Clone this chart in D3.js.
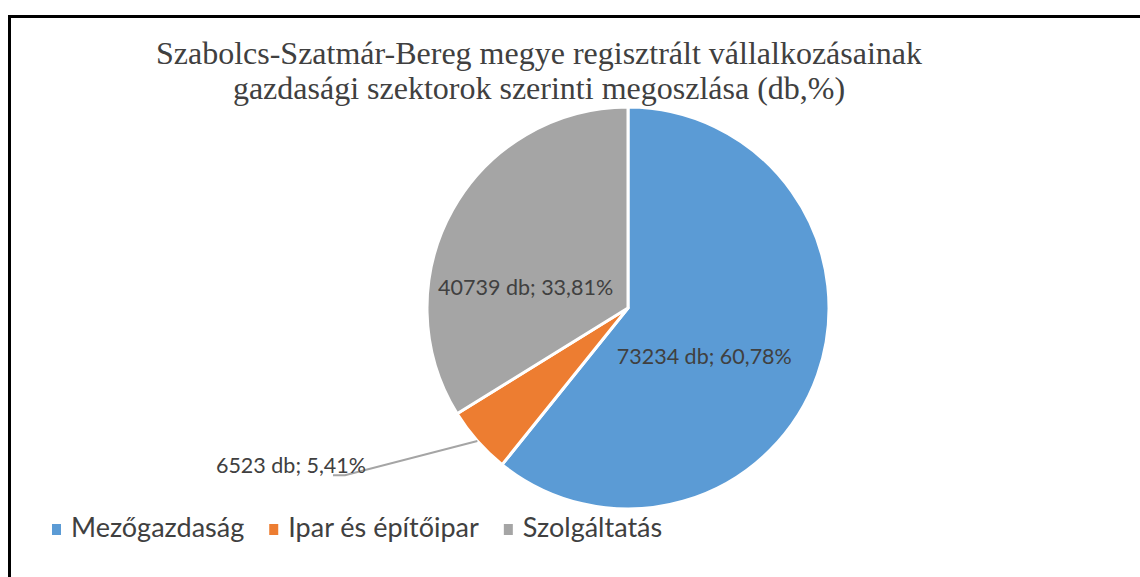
<!DOCTYPE html>
<html>
<head>
<meta charset="utf-8">
<script src="https://cdn.jsdelivr.net/npm/d3@7"></script>
<style>
  body { margin: 0; background: #fff; }
  svg { display: block; }
</style>
</head>
<body>
<div id="chart-area"></div>
<script>
// data
var sectors = ["Mezőgazdaság", "Ipar és építőipar", "Szolgáltatás"];
var counts = [73234, 6523, 40739];
var shares = ["60,78%", "5,41%", "33,81%"];
var colors = ["#5B9BD5", "#ED7D31", "#A5A5A5"];
var titleLines = ["Szabolcs-Szatmár-Bereg megye regisztrált  vállalkozásainak",
                  "gazdasági szektorok szerinti megoszlása (db,%)"];

var W = 1140, H = 577;
var cx = 628, cy = 308, radius = 201;

var svg = d3.select("#chart-area")
  .append("svg")
    .attr("width", W)
    .attr("height", H);

svg.append("rect").attr("width", W).attr("height", H).attr("fill", "#fff");

// frame of the chart area (cut by the window on the right and bottom)
svg.append("path")
  .attr("d", "M9.5," + (H + 5) + " V16.5 H" + (W + 5))
  .attr("fill", "none")
  .attr("stroke", "#000")
  .attr("stroke-width", 3);

// title
svg.append("text")
  .attr("x", 539)
  .attr("y", 64)
  .attr("font-family", "'Liberation Serif', 'Times New Roman', serif")
  .attr("font-size", "32px")
  .attr("fill", "#404040")
  .attr("text-anchor", "middle")
  .selectAll("tspan")
  .data(titleLines)
  .enter()
  .append("tspan")
    .attr("x", 539)
    .attr("dy", function(d, i) { return i === 0 ? 0 : 35; })
    .text(function(d) { return d; });

var pie = d3.pie().sort(null).value(function(d) { return d; });
var arcs = pie(counts);

var arc = d3.arc().innerRadius(0).outerRadius(radius);

var g = svg.append("g")
  .attr("transform", "translate(" + cx + "," + cy + ")");

g.selectAll("path.slice")
  .data(arcs)
  .enter()
  .append("path")
    .attr("class", "slice")
    .attr("d", arc)
    .attr("fill", function(d, i) { return colors[i]; })
    .attr("stroke", "#fff")
    .attr("stroke-width", 3)
    .attr("stroke-linejoin", "round");

// label placement (angle in degrees from 12 o'clock, distance as share of radius)
var labelPlace = [
  {ang: 122.5, r: 0.45},
  {ang: 245, r: 1.85},
  {ang: 281.6, r: 0.52}
];

function polar(ang, r) {
  var a = ang * Math.PI / 180;
  return [r * Math.sin(a), -r * Math.cos(a)];
}

// leader line for the small slice
var o = arcs[1];
var mid = (o.startAngle + o.endAngle) / 2;
var p0 = polar(mid * 180 / Math.PI, radius * 1.0);
var lp = polar(labelPlace[1].ang, radius * labelPlace[1].r);
var p1 = [lp[0] + 54, lp[1] + 10];
var p2 = [p1[0] - 12, p1[1]];
g.append("polyline")
  .attr("points", [p0, p1, p2].map(function(p) { return p.join(","); }).join(" "))
  .attr("fill", "none")
  .attr("stroke", "#A5A5A5")
  .attr("stroke-width", 2);

g.selectAll("text.label")
  .data(arcs)
  .enter()
  .append("text")
    .attr("class", "label")
    .attr("transform", function(d, i) {
      return "translate(" + polar(labelPlace[i].ang, radius * labelPlace[i].r) + ")";
    })
    .attr("dy", "0.35em")
    .attr("text-anchor", "middle")
    .attr("font-family", "Lato, 'Open Sans', sans-serif")
    .attr("font-size", "21.5px")
    .attr("fill", "#404040")
    .text(function(d, i) { return counts[i] + " db; " + shares[i]; });

// legend
var legend = svg.append("g").attr("transform", "translate(52,537)");
var lx = 0;
sectors.forEach(function(name, i) {
  var item = legend.append("g").attr("transform", "translate(" + lx + ",0)");
  item.append("rect")
    .attr("x", 0).attr("y", -13)
    .attr("width", 9).attr("height", 11)
    .attr("fill", colors[i]);
  var t = item.append("text")
    .attr("x", 19)
    .attr("font-family", "Lato, 'Open Sans', sans-serif")
    .attr("font-size", "27px")
    .attr("fill", "#404040")
    .text(name);
  lx += 19 + t.node().getComputedTextLength() + 25;
});
</script>
</body>
</html>
